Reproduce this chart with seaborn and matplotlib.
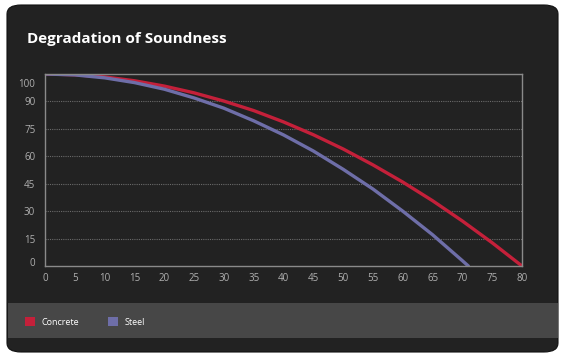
import pandas as pd
import seaborn as sns
import matplotlib.pyplot as plt
import matplotlib.transforms as mtransforms
from matplotlib.patches import FancyBboxPatch, Rectangle, Patch

# datos
anios = [0, 5, 10, 15, 20, 25, 30, 35, 40, 45, 50, 55, 60, 65, 70, 75, 80]
concreto = [105, 104.6, 103.4, 101.3, 98.4, 94.7, 90.2, 85, 78.8, 71.8, 64, 55.3, 45.9, 35.7, 24.6, 12.7, 0]
anios_acero = [0, 5, 10, 15, 20, 25, 30, 35, 40, 45, 50, 55, 60, 65, 70, 71]
acero = [105, 104.5, 102.9, 100.3, 96.7, 91.9, 86.3, 79.4, 71.7, 62.9, 52.9, 42.1, 30, 17.1, 2.9, 0]
series = ['Concrete', 'Steel']
colores = ['#c4203a', '#6e6ea8']
yticks = [0, 15, 30, 45, 60, 75, 90, 100]
xticks = list(range(0, 85, 5))

df = pd.concat([
    pd.DataFrame({'x': anios, 'y': concreto, 'serie': series[0]}),
    pd.DataFrame({'x': anios_acero, 'y': acero, 'serie': series[1]}),
])

sns.set_style('dark')
plt.rcParams['font.family'] = ['Open Sans', 'DejaVu Sans']

W, H = 561, 358
fig = plt.figure(figsize=(W / 100, H / 100), dpi=100)
fig.patch.set_facecolor('white')

# tarjeta oscura
card = FancyBboxPatch((7 / W, 1 - 352 / H), 551 / W, 347 / H,
                      boxstyle='round,pad=0,rounding_size=0.025',
                      transform=fig.transFigure, facecolor='#222222',
                      edgecolor='#111111', linewidth=0.8, zorder=-2)
fig.patches.append(card)
# banda de la leyenda
fig.patches.append(Rectangle((7.5 / W, 1 - 338 / H), 550 / W, 35 / H,
                             transform=fig.transFigure, facecolor='#474747',
                             edgecolor='none', zorder=-1))

fig.text(27 / W, 1 - 39 / H, 'Degradation of Soundness', color='white',
         fontsize=11, fontweight='bold', va='center', ha='left')

ax = fig.add_axes([45 / W, 1 - 266 / H, (522 - 45) / W, (266 - 74) / H])
ax.set_zorder(2)
ax.set_facecolor('#222222')
sns.lineplot(data=df, x='x', y='y', hue='serie', palette=colores,
             linewidth=2.4, ax=ax, legend=False)

ax.set_xlim(0, 80)
ax.set_ylim(0, 105)
ax.set_xticks(xticks)
ax.set_yticks(yticks)
ax.set_xlabel('')
ax.set_ylabel('')
ax.tick_params(colors='#b0b0b0', labelsize=7, length=0)
ax.tick_params(axis='y', pad=7)
ax.tick_params(axis='x', pad=5)
ax.grid(False)
# la etiqueta 0 va un poco mas arriba
lbl0 = ax.get_yticklabels()[0]
lbl0.set_transform(lbl0.get_transform() + mtransforms.ScaledTranslation(0, 4 / 100, fig.dpi_scale_trans))
for g in [15, 30, 45, 60, 75, 90]:
    ax.axhline(g, color='#6a6a6a', linestyle=(0, (1, 1)), linewidth=0.8, zorder=0)
for s in ax.spines.values():
    s.set_visible(True)
    s.set_color('#8a8a8a')
    s.set_linewidth(1)

handles = [Patch(facecolor=c, edgecolor='none') for c in colores]
leg = fig.legend(handles, series, loc='center left', bbox_to_anchor=(17 / W, 1 - 322 / H),
                 ncol=2, frameon=False, fontsize=6.5, labelcolor='white',
                 handlelength=1.1, handleheight=1.1, handletextpad=0.7, columnspacing=3.2)
leg.set_zorder(3)

plt.savefig('out.png', dpi=100, facecolor='white')
